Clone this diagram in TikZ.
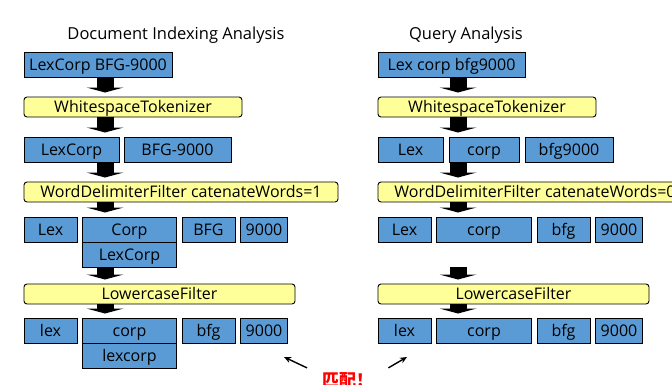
\documentclass[tikz,border=0pt]{standalone}
\usepackage{fontspec}
\setmainfont{Open Sans}
\newfontfamily\cjkfont{Noto Sans CJK SC}
\usetikzlibrary{
  arrows.meta,
  positioning
}
\definecolor{tokblue}{HTML}{5A9BD5}
\definecolor{filteryellow}{HTML}{FFFF99}
\definecolor{matchred}{HTML}{FF0000}

\begin{document}
\begin{tikzpicture}[
    x=1pt, y=-1pt,
    font=\fontsize{16pt}{19pt}\selectfont,
    tok/.style={
      rectangle, draw=black, line width=0.9pt, fill=tokblue,
      minimum height=25pt, inner sep=0pt, outer sep=0pt,
      text height=11.5pt, text depth=0pt
    },
    filter/.style={
      rectangle, rounded corners=3pt, draw=black, line width=0.9pt,
      fill=filteryellow, minimum height=20pt, inner sep=0pt, outer sep=0pt,
      text height=11.5pt, text depth=0pt, anchor=north west
    },
    heading/.style={font=\fontsize{16.5pt}{19pt}\selectfont},
    flow/.style={
      line width=17pt, shorten >=4.5pt,
      -{Triangle[width=37pt,length=5pt,line width=0pt]}
    },
    pointer/.style={line width=1.4pt, -{Stealth[length=7pt,width=6pt]}}
  ]
  \useasboundingbox (0,0) rectangle (672,384);
  \clip (0,0) rectangle (672,384);

  \coordinate (axL) at (105,0);
  \coordinate (axR) at (458,0);

  % indexing side
  \node[heading] (titleL) at (176,35) {Document Indexing Analysis};
  \node[tok, minimum width=148pt, anchor=north west] (srcL) at (24,52) {LexCorp BFG-9000};
  \node[filter, minimum width=218pt] (wsL) at (24,97) {WhitespaceTokenizer};
  \node[tok, minimum width=95pt, anchor=north west] (aL1) at (24,137) {LexCorp};
  \node[tok, minimum width=107pt, right=5pt of aL1] (aL2) {BFG-9000};
  \node[filter, minimum width=314pt] (wdfL) at (24,182) {WordDelimiterFilter catenateWords=1};
  \node[tok, minimum width=53pt, anchor=north west] (bL1) at (24,217) {Lex};
  \node[tok, minimum width=94pt, right=5.5pt of bL1] (bL2) {Corp};
  \node[tok, minimum width=94pt, below=0pt of bL2] (bL2x) {LexCorp};
  \node[tok, minimum width=53pt, right=5.5pt of bL2] (bL3) {BFG};
  \node[tok, minimum width=47pt, right=5.5pt of bL3] (bL4) {9000};
  \node[filter, minimum width=271pt] (lcL) at (24,284) {LowercaseFilter};
  \node[tok, minimum width=53pt, anchor=north west] (cL1) at (24,318) {lex};
  \node[tok, minimum width=94pt, right=5.5pt of cL1] (cL2) {corp};
  \node[tok, minimum width=94pt, below=0pt of cL2] (cL2x) {lexcorp};
  \node[tok, minimum width=53pt, right=5.5pt of cL2] (cL3) {bfg};
  \node[tok, minimum width=47pt, right=5.5pt of cL3] (cL4) {9000};

  \draw[flow] (axL |- srcL.south) -- (axL |- wsL.north);
  \draw[flow] (axL |- wsL.south) -- (axL |- aL1.north);
  \draw[flow] (axL |- aL1.south) -- (axL |- wdfL.north);
  \draw[flow] (axL |- wdfL.south) -- (axL |- bL2.north);
  \draw[flow] (axL |- bL2x.south) -- (axL |- lcL.north);
  \draw[flow] (axL |- lcL.south) -- (axL |- cL2.north);

  % query side
  \node[heading] (titleR) at (466,35) {Query Analysis};
  \node[tok, minimum width=147pt, anchor=north west] (srcR) at (378,52) {Lex corp bfg9000};
  \node[filter, minimum width=218pt] (wsR) at (378,97) {WhitespaceTokenizer};
  \node[tok, minimum width=65pt, anchor=north west] (aR1) at (378,137) {Lex};
  \node[tok, minimum width=70pt, right=6pt of aR1] (aR2) {corp};
  \node[tok, minimum width=88pt, right=6pt of aR2] (aR3) {bfg9000};
  \node[filter, minimum width=314pt] (wdfR) at (378,182) {WordDelimiterFilter catenateWords=0};
  \node[tok, minimum width=53pt, anchor=north west] (bR1) at (378,217) {Lex};
  \node[tok, minimum width=95pt, right=5.5pt of bR1] (bR2) {corp};
  \node[tok, minimum width=53pt, right=5.5pt of bR2] (bR3) {bfg};
  \node[tok, minimum width=47pt, right=5.5pt of bR3] (bR4) {9000};
  \node[filter, minimum width=271pt] (lcR) at (378,284) {LowercaseFilter};
  \node[tok, minimum width=53pt, anchor=north west] (cR1) at (378,318) {lex};
  \node[tok, minimum width=95pt, right=5.5pt of cR1] (cR2) {corp};
  \node[tok, minimum width=53pt, right=5.5pt of cR2] (cR3) {bfg};
  \node[tok, minimum width=47pt, right=5.5pt of cR3] (cR4) {9000};

  \draw[flow] (axR |- srcR.south) -- (axR |- wsR.north);
  \draw[flow] (axR |- wsR.south) -- (axR |- aR2.north);
  \draw[flow] (axR |- aR2.south) -- (axR |- wdfR.north);
  \draw[flow] (axR |- wdfR.south) -- (axR |- bR2.north);
  \draw[flow] (axR |- bL2x.south) -- (axR |- lcR.north);
  \draw[flow] (axR |- lcR.south) -- (axR |- cR2.north);

  % the match note
  \node[text=matchred, font=\cjkfont\bfseries\fontsize{17pt}{20pt}\selectfont,
        inner xsep=15pt, inner ysep=4pt, anchor=base west] (match) at (307,386) {匹配！};
  \coordinate (hitL) at (284,357);
  \coordinate (hitR) at (407,357);
  \draw[pointer] (match.north west) -- (hitL);
  \draw[pointer] (match.north east) -- (hitR);
\end{tikzpicture}
\end{document}
